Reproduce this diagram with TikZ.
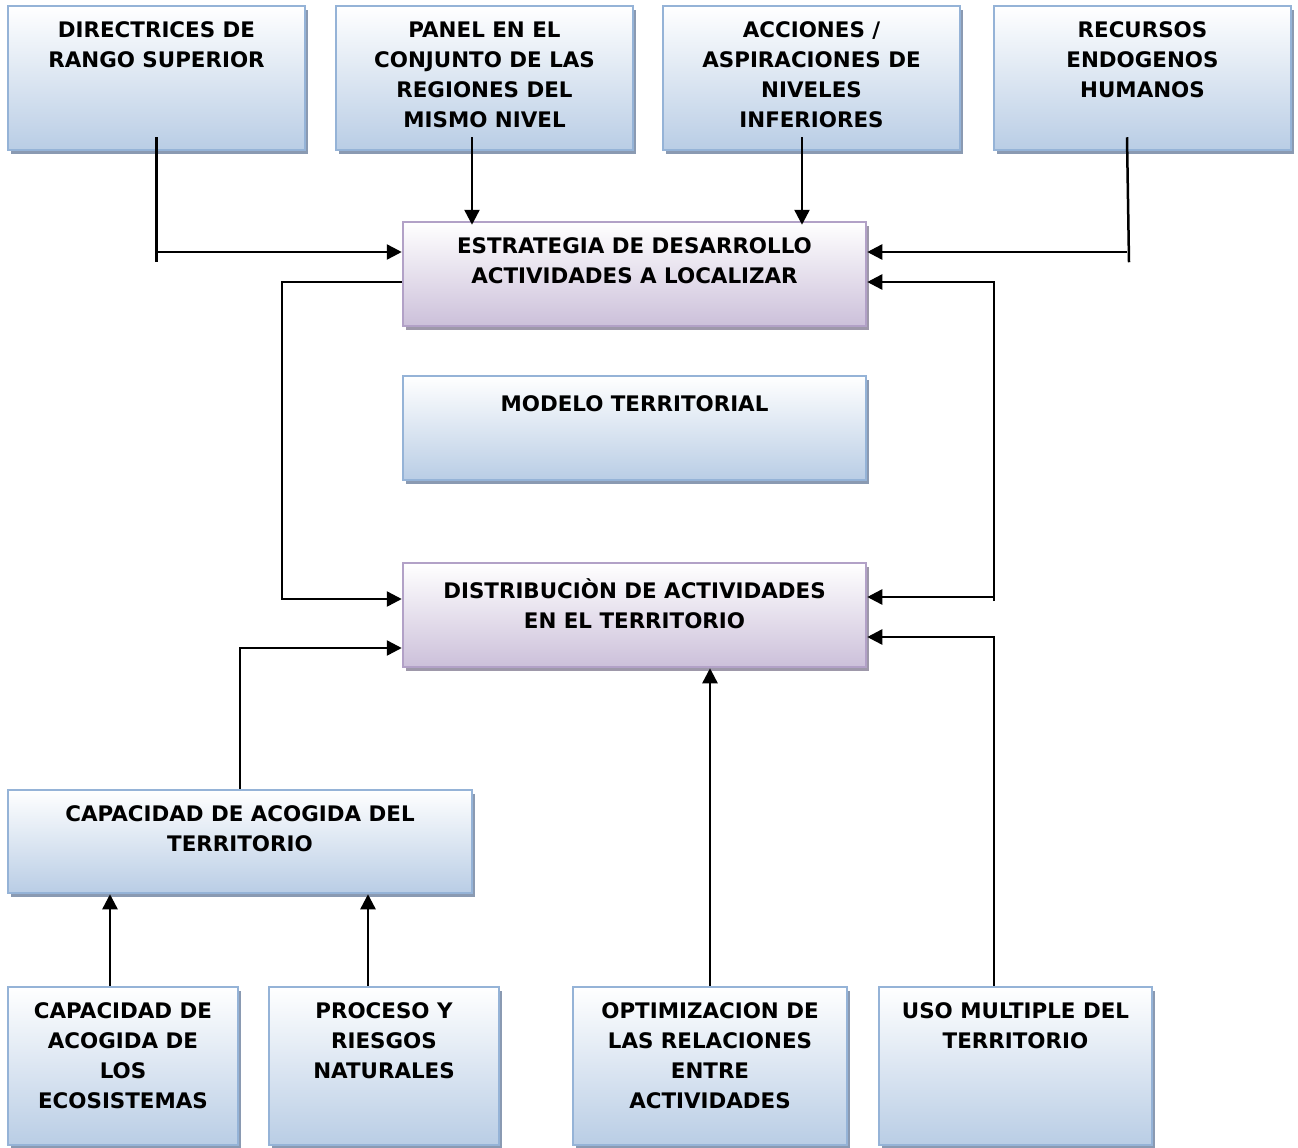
\documentclass[tikz,border=0pt]{standalone}
\usepackage{fontspec}
\setmainfont{DejaVu Sans}
\usetikzlibrary{arrows.meta,positioning,shadows}

\definecolor{bluefill}{RGB}{185,205,229}
\definecolor{blueedge}{RGB}{149,179,215}
\definecolor{blueshadow}{RGB}{138,154,178}
\definecolor{purplefill}{RGB}{204,192,218}
\definecolor{purpleedge}{RGB}{178,161,199}
\definecolor{purpleshadow}{RGB}{158,152,170}
\newcommand{\boxfont}{\fontsize{21.4}{30}\selectfont\bfseries}

\begin{document}
\begin{tikzpicture}[x=1pt,y=-1pt,on grid,
	boxtext/.style={anchor=north,align=center,font=\boxfont,inner xsep=0pt,inner ysep=17pt,
		execute at begin node={\rule{0pt}{20pt}}},
	bluebox/.style={rectangle,draw=blueedge,line width=2.5pt,top color=white,bottom color=bluefill,
		drop shadow={shadow xshift=3pt,shadow yshift=-4pt,fill=blueshadow,opacity=1},
		label={[boxtext]north:#1}},
	purplebox/.style={rectangle,draw=purpleedge,line width=2.5pt,top color=white,bottom color=purplefill,
		drop shadow={shadow xshift=3pt,shadow yshift=-4pt,fill=purpleshadow,opacity=1},
		label={[boxtext]north:#1}},
	line/.style={draw=black,line width=2.5pt},
	arrow/.style={line,-{Triangle[length=15pt,width=15pt]}}]

	\useasboundingbox (0,0) rectangle (1298,1148);

	% upper row
	\node[bluebox={DIRECTRICES DE\\RANGO SUPERIOR},minimum width=297pt,minimum height=144pt] (directrices) at (156.5,78) {};
	\node[bluebox={PANEL EN EL\\CONJUNTO DE LAS\\REGIONES DEL\\MISMO NIVEL},minimum width=297pt,minimum height=144pt] (panel) [right=328pt of directrices] {};
	\node[bluebox={ACCIONES /\\ASPIRACIONES DE\\NIVELES\\INFERIORES},minimum width=297pt,minimum height=144pt] (acciones) [right=327pt of panel] {};
	\node[bluebox={RECURSOS\\ENDOGENOS\\HUMANOS},minimum width=297pt,minimum height=144pt] (recursos) [right=331pt of acciones] {};

	% middle column
	\node[purplebox={ESTRATEGIA DE DESARROLLO\\ACTIVIDADES A LOCALIZAR},minimum width=463pt,minimum height=104pt] (estrategia) at (634.5,274) {};
	\node[bluebox={MODELO TERRITORIAL},minimum width=463pt,minimum height=104pt] (modelo) [below=154pt of estrategia] {};
	\node[purplebox={DISTRIBUCIÒN DE ACTIVIDADES\\EN EL TERRITORIO},minimum width=463pt,minimum height=104pt] (distribucion) [below=187pt of modelo] {};

	\node[bluebox={CAPACIDAD DE ACOGIDA DEL\\TERRITORIO},minimum width=464pt,minimum height=103pt] (capacidad) at (240,841.5) {};

	% lower row
	\node[bluebox={CAPACIDAD DE\\ACOGIDA DE\\LOS\\ECOSISTEMAS},minimum width=230pt,minimum height=158pt] (ecosistemas) at (123,1066) {};
	\node[bluebox={PROCESO Y\\RIESGOS\\NATURALES},minimum width=230pt,minimum height=158pt] (procesos) [right=261pt of ecosistemas] {};
	\node[bluebox={OPTIMIZACION DE\\LAS RELACIONES\\ENTRE\\ACTIVIDADES},minimum width=274pt,minimum height=158pt] (optimizacion) [right=326pt of procesos] {};
	\node[bluebox={USO MULTIPLE DEL\\TERRITORIO},minimum width=273pt,minimum height=158pt] (uso) [right=305.5pt of optimizacion] {};

	% entry points
	\coordinate (est_l1) at ([yshift=22pt]estrategia.west);
	\coordinate (est_l2) at ([yshift=-8pt]estrategia.west);
	\coordinate (est_r1) at ([yshift=22pt]estrategia.east);
	\coordinate (est_r2) at ([yshift=-8pt]estrategia.east);
	\coordinate (dis_l1) at ([yshift=16pt]distribucion.west);
	\coordinate (dis_l2) at ([yshift=-33pt]distribucion.west);
	\coordinate (dis_r1) at ([yshift=18pt]distribucion.east);
	\coordinate (dis_r2) at ([yshift=-22pt]distribucion.east);
	\coordinate (dir_out) at ([yshift=14pt]directrices.south);
	\coordinate (pan_out) at ([xshift=-12.5pt,yshift=14pt]panel.south);
	\coordinate (acc_out) at ([xshift=-9.5pt,yshift=14pt]acciones.south);
	\coordinate (rec_out) at ([xshift=-15.5pt,yshift=14pt]recursos.south);
	\coordinate (loop_l) at (282,599);
	\coordinate (loop_r) at (994,601);

	% connectors
	\draw[line] (dir_out) -- ++(0,125);
	\draw[arrow] (dir_out |- est_l1) -- (est_l1);
	\draw[arrow] (pan_out) -- ([yshift=-4pt]pan_out |- estrategia.north);
	\draw[arrow] (acc_out) -- ([yshift=-4pt]acc_out |- estrategia.north);
	\draw[line] (rec_out) -- ++(2,125);
	\draw[arrow] (rec_out |- est_r1) -- (est_r1);

	\draw[arrow] (est_l2) -| (loop_l) -- (dis_l1);
	\draw[arrow] (loop_r) |- (est_r2);
	\draw[arrow] (loop_r |- dis_r1) -- (dis_r1);

	\draw[arrow] (capacidad.north) |- (dis_l2);
	\draw[arrow] (optimizacion.north) -- (optimizacion.north |- distribucion.south);
	\draw[arrow] ([xshift=-21.5pt]uso.north) |- (dis_r2);
	\draw[arrow] ([xshift=-13pt]ecosistemas.north) -- ([xshift=-13pt]ecosistemas.north |- capacidad.south);
	\draw[arrow] ([xshift=-16pt]procesos.north) -- ([xshift=-16pt]procesos.north |- capacidad.south);

\end{tikzpicture}
\end{document}
